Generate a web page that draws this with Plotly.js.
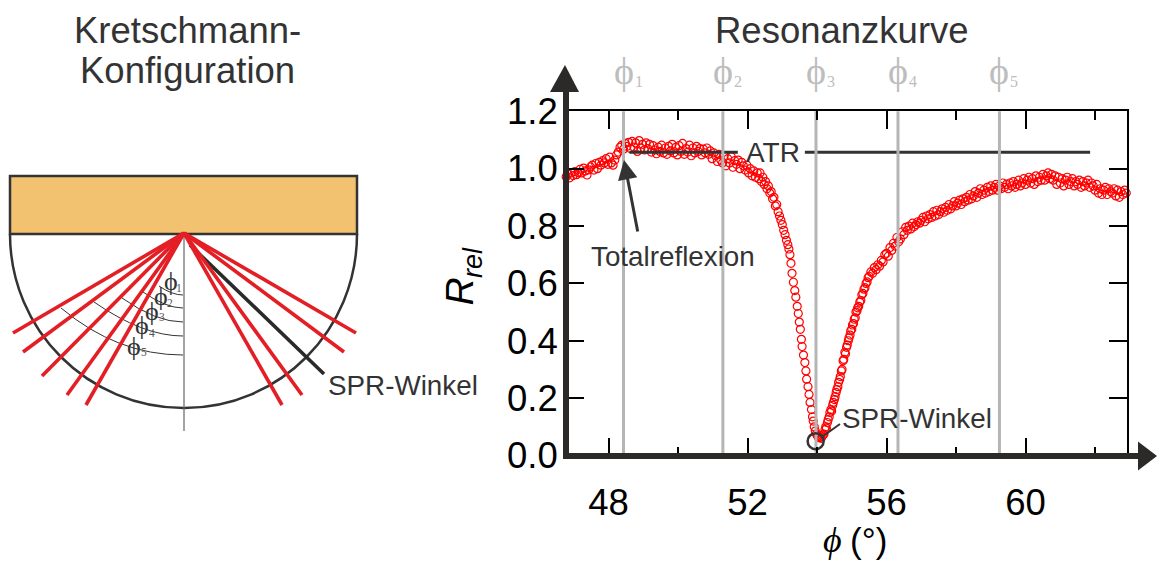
<!DOCTYPE html>
<html><head><meta charset="utf-8">
<script src="https://cdn.plot.ly/plotly-3.0.1.min.js"></script>
<style>html,body{margin:0;padding:0;background:#fff;overflow:hidden}</style>
</head><body><div id="chart" style="width:1157px;height:561px"></div>
<script>
const phiLeft=[46.78,46.83,46.88,46.93,46.98,47.03,47.08,47.13,47.18,47.23,47.28,47.33,47.38,47.43,47.48,47.53,47.58,47.63,47.68,47.73,47.78,47.83,47.88,47.93,47.98,48.03,48.08,48.13,48.18,48.23,48.28,48.33,48.38,48.43,48.48,48.53,48.58,48.63,48.68,48.73,48.78,48.83,48.88,48.93,48.98,49.03,49.08,49.13,49.18,49.23,49.28,49.33,49.38,49.43,49.48,49.53,49.58,49.63,49.68,49.73,49.78,49.83,49.88,49.93,49.98,50.03,50.08,50.13,50.18,50.23,50.28,50.33,50.38,50.43,50.48,50.53,50.58,50.63,50.68,50.73,50.78,50.83,50.88,50.93,50.98,51.03,51.08,51.13,51.18,51.23,51.28,51.33,51.38,51.43,51.48,51.53,51.58,51.63,51.68,51.73,51.78,51.83,51.88,51.93,51.98,52.03,52.08,52.13,52.18,52.23,52.28];
const rLeft=[.972,.981,.968,.985,.976,.99,.979,.986,.998,.985,1.002,.992,.978,.996,1.006,1.012,.995,1.018,1.0,1.022,1.012,1.028,1.02,1.035,1.015,1.04,1.02,1.012,1.03,1.048,1.058,1.075,1.082,1.068,1.088,1.078,1.092,1.07,1.095,1.075,1.09,1.06,1.098,1.072,1.085,1.065,1.09,1.07,1.085,1.058,1.08,1.065,1.052,1.075,1.06,1.082,1.055,1.072,1.05,1.078,1.062,1.085,1.055,1.074,1.048,1.08,1.06,1.088,1.05,1.07,1.058,1.082,1.045,1.072,1.055,1.078,1.06,1.07,1.048,1.068,1.055,1.072,1.05,1.062,1.035,1.055,1.045,1.025,1.05,1.03,1.02,1.045,1.01,1.035,1.02,1.042,1.005,1.028,1.015,1.03,1.0,1.022,1.01,.995,1.012,.985,1.0,.975,.992,.97,.985];
const phiDip=[52.32,52.36,52.40,52.44,52.48,52.52,52.56,52.60,52.64,52.68,52.72,52.76,52.80,52.84,52.88,52.92,52.96,53.00,53.04,53.08,53.12,53.16,53.19,53.22,53.25,53.28,53.32,53.36,53.39,53.43,53.46,53.49,53.52,53.55,53.57,53.61,53.65,53.68,53.70,53.74,53.77,53.80,53.84,53.87,53.89,53.92,53.95,53.98,54.01,54.03,54.06,54.09,54.12,54.15,54.18,54.20,54.23,54.25,54.27,54.30,54.32,54.35,54.37,54.40,54.42,54.45,54.47,54.50,54.52,54.55,54.57,54.60,54.62,54.65,54.67,54.70,54.72,54.75,54.77,54.80,54.82,54.85,54.87,54.90,54.92,54.95,54.97,55.00,55.02,55.05,55.07,55.10,55.12,55.15,55.17,55.20,55.23,55.26,55.29,55.32,55.35,55.38,55.41,55.44,55.47];
const rDip=[.965,.985,.955,.97,.945,.955,.93,.94,.915,.92,.895,.90,.87,.875,.85,.835,.82,.805,.785,.77,.75,.735,.72,.70,.67,.635,.604,.575,.552,.52,.495,.465,.44,.405,.38,.35,.324,.295,.266,.24,.213,.185,.16,.135,.12,.10,.085,.075,.07,.065,.062,.064,.06,.068,.072,.075,.09,.10,.095,.115,.125,.135,.15,.16,.155,.175,.185,.195,.205,.22,.23,.24,.255,.265,.275,.295,.30,.33,.335,.36,.355,.377,.385,.40,.41,.42,.435,.44,.455,.46,.475,.48,.50,.505,.515,.52,.535,.54,.56,.565,.58,.585,.60,.605,.62];
const phiRight=[55.50,55.55,55.60,55.65,55.70,55.75,55.80,55.85,55.90,55.95,56.00,56.05,56.10,56.15,56.20,56.25,56.30,56.35,56.40,56.45,56.50,56.55,56.60,56.65,56.70,56.75,56.80,56.85,56.90,56.95,57.00,57.05,57.10,57.15,57.20,57.25,57.30,57.35,57.40,57.45,57.50,57.55,57.60,57.65,57.70,57.75,57.80,57.85,57.90,57.95,58.00,58.05,58.10,58.15,58.20,58.25,58.30,58.35,58.40,58.45,58.50,58.55,58.60,58.65,58.70,58.75,58.80,58.85,58.90,58.95,59.00,59.05,59.10,59.15,59.20,59.25,59.30,59.35,59.40,59.45,59.50,59.55,59.60,59.65,59.70,59.75,59.80,59.85,59.90,59.95,60.00,60.05,60.10,60.15,60.20,60.25,60.30,60.35,60.40,60.45,60.50,60.55,60.60,60.65,60.70,60.75,60.80,60.85,60.90,60.95,61.00,61.05,61.10,61.15,61.20,61.25,61.30,61.35,61.40,61.45,61.50,61.55,61.60,61.65,61.70,61.75,61.80,61.85,61.90,61.95,62.00,62.05,62.10,62.15,62.20,62.25,62.30,62.35,62.40,62.45,62.50,62.55,62.60,62.65,62.70,62.75,62.80,62.85,62.90];
const rRight=[.625,.64,.635,.655,.648,.665,.66,.68,.675,.70,.705,.695,.725,.715,.74,.73,.76,.745,.755,.78,.77,.795,.785,.80,.79,.81,.798,.805,.815,.81,.82,.83,.815,.835,.825,.84,.83,.85,.835,.855,.84,.85,.86,.848,.865,.855,.875,.86,.87,.885,.87,.88,.89,.875,.895,.885,.90,.89,.91,.895,.905,.92,.90,.915,.93,.91,.925,.915,.935,.92,.94,.925,.935,.945,.925,.94,.93,.95,.935,.945,.93,.95,.94,.955,.935,.945,.96,.94,.95,.965,.945,.96,.97,.95,.965,.945,.975,.955,.97,.96,.98,.96,.975,.985,.965,.98,.96,.975,.945,.97,.95,.965,.94,.96,.97,.945,.955,.965,.94,.955,.945,.96,.935,.955,.94,.95,.96,.935,.95,.94,.925,.945,.915,.93,.91,.925,.935,.91,.93,.92,.915,.93,.905,.925,.90,.92,.91,.925,.915];
const phiMarks=[48.43,51.29,53.97,56.33,59.25];
const phiDigits=["1","2","3","4","5"];
const atrLevel=1.057, atrSegments=[[48.6,51.72],[53.65,61.86]];
const sprPhi=53.96, sprR=0.05;
const xTicks=[48,52,56,60], xMinor=[48,50,52,54,56,58,60,62], yTicks=[0,0.2,0.4,0.6,0.8,1.0,1.2];
const xRange=[46.775,62.93], yRange=[0,1.2];
// Sketch geometry (page-like coordinates of the left diagram)
const apex=[184,233];
const redRayEnds=[[13,333],[23,352],[42,376],[67,395],[86,405],[356,333],[344,352],[302,395],[282,405]];
const blackRayEnd=[324,374];
const arcs=[[183,295,172,295,159,286],[183,308,166,308,143,292],[183,322,156,322,122,298],[183,336,143,336,94,302],[183,355,117,355,61,308]];
const sketchPhi=[[170.7,281],[160.7,296],[152,311],[142.3,325.5],[134.3,346]];
const sketchDigit=[[179.3,288],[170,303],[161.7,317],[152,333],[144,352]];

const ink='#333333', bar='#2b2a29', grayLine='#b5b5b5', grayText='#bdbdbd', red='#ff0000', rayRed='#e31e24';
const F='"Liberation Sans",Arial,sans-serif', S='"Liberation Serif",serif';

const rayX=[],rayY=[];
redRayEnds.forEach(e=>{rayX.push(apex[0],e[0],null);rayY.push(apex[1],e[1],null);});
const markX=[],markY=[];
phiMarks.forEach(p=>{markX.push(p,p,null);markY.push(-0.01,1.262,null);});
const atrX=[],atrY=[];
atrSegments.forEach(s=>{atrX.push(s[0],s[1],null);atrY.push(atrLevel,atrLevel,null);});

const traces=[
 {x:phiLeft.concat(phiDip,phiRight),y:rLeft.concat(rDip,rRight),mode:'markers',cliponaxis:false,
  marker:{symbol:'circle-open',size:8,color:red,line:{width:1.2,color:red}}},
 {x:atrX,y:atrY,mode:'lines',line:{color:ink,width:3},cliponaxis:false},
 {x:markX,y:markY,mode:'lines',line:{color:grayLine,width:3},cliponaxis:false},
 {x:[sprPhi],y:[sprR],mode:'markers',cliponaxis:false,marker:{symbol:'circle-open',size:16,color:ink,line:{width:2.5,color:ink}}},
 {x:[54.17,54.66],y:[0.067,0.11],mode:'lines',line:{color:ink,width:2},cliponaxis:false},
 {x:[566,566],y:[459,90],xaxis:'x2',yaxis:'y2',mode:'lines',line:{color:bar,width:6}},
 {x:[563,1140],y:[456,456],xaxis:'x2',yaxis:'y2',mode:'lines',line:{color:bar,width:6}},
 {x:[blackRayEnd[0],apex[0]+6],y:[blackRayEnd[1],apex[1]+12],xaxis:'x2',yaxis:'y2',mode:'lines',line:{color:bar,width:3.6}},
 {x:rayX,y:rayY,xaxis:'x2',yaxis:'y2',mode:'lines',line:{color:rayRed,width:3.6}}
];

const shapes=[
 {type:'rect',xref:'x2',yref:'y2',x0:10,x1:357,y0:176,y1:234,fillcolor:'#f3c271',line:{color:ink,width:2.5},layer:'below'},
 {type:'path',xref:'x2',yref:'y2',path:'M10,234 C10,330 88,408 184,408 C280,408 357,330 357,234',line:{color:ink,width:2.5},layer:'below'},
 {type:'line',xref:'x2',yref:'y2',x0:184,x1:184,y0:234,y1:431,line:{color:'#666',width:1.2},layer:'below'},
 {type:'path',xref:'x2',yref:'y2',path:'M550,92 L579,92 L565,65 Z',fillcolor:bar,line:{width:0}},
 {type:'path',xref:'x2',yref:'y2',path:'M1138,441.5 L1157,456 L1138,470.5 Z',fillcolor:bar,line:{width:0}}
];
arcs.forEach(a=>shapes.push({type:'path',xref:'x2',yref:'y2',path:`M${a[0]},${a[1]} Q${a[2]},${a[3]} ${a[4]},${a[5]}`,line:{color:ink,width:1},layer:'below'}));

function note(x,y,text,size,color,font,extra,style){
 return Object.assign({xref:'x2',yref:'y2',x,y,text,showarrow:false,font:{family:font||F,size,color:color||ink,style:style||'normal'},xanchor:'center',yanchor:'middle'},extra||{});
}
const annotations=[
 note(187,30,'Kretschmann-',36.5),
 note(187,70,'Konfiguration',36.5),
 note(842,30,'Resonanzkurve',36.5),
 note(403,385,'SPR-Winkel',27.8),
 note(917,418,'SPR-Winkel',27.8),
 note(773,152,'ATR',28),
 note(673,256,'Totalreflexion',27.8),
 note(459,291.5,'R',39,'#000',F,{textangle:-90},'italic'),
 note(473,263,'rel',27,'#000',F,{textangle:-90},'italic'),
 note(832,540,'ϕ',36,'#000',S,{},'italic'),
 note(868,540.5,'(°)',35,'#000',F),
 {xref:'x2',yref:'y2',axref:'x2',ayref:'y2',x:624,y:160,ax:638,ay:233,text:'',showarrow:true,arrowhead:2,arrowsize:1.3,arrowwidth:3,arrowcolor:ink}
];
phiMarks.forEach((p,i)=>{
 annotations.push({xref:'x',yref:'y2',x:p,y:71,text:'ϕ',showarrow:false,font:{family:S,size:38,color:grayText}});
 annotations.push({xref:'x',yref:'y2',x:p,y:81,xshift:15,text:phiDigits[i],showarrow:false,font:{family:S,size:16,color:grayText}});
});
sketchPhi.forEach((p,i)=>annotations.push(note(p[0],p[1],'ϕ',26,ink,S)));
sketchDigit.forEach((p,i)=>annotations.push(note(p[0],p[1],phiDigits[i],11.5,'#555',S)));

const axisFont={family:F,size:36.5,color:'#000'};
const layout={
 width:1157,height:561,margin:{l:0,r:0,t:0,b:0,pad:0},paper_bgcolor:'#fff',plot_bgcolor:'rgba(0,0,0,0)',showlegend:false,hovermode:false,
 xaxis:{domain:[566/1157,1127.3/1157],range:xRange,anchor:'y',tickmode:'array',tickvals:xTicks,ticktext:xTicks.map(String),
  ticks:'inside',ticklen:18,tickwidth:2,tickcolor:'#000',showline:true,linewidth:2,linecolor:'#000',mirror:'allticks',showgrid:false,zeroline:false,
  tickfont:axisFont,ticklabelstandoff:14,
  minor:{tickmode:'array',tickvals:xMinor,ticks:'inside',ticklen:9,tickwidth:2,tickcolor:'#000',showgrid:false}},
 yaxis:{domain:[1-455.5/561,1-111.3/561],range:yRange,anchor:'x',tickmode:'array',tickvals:yTicks,ticktext:yTicks.map(v=>v.toFixed(1)),
  ticks:'inside',ticklen:18,tickwidth:2,tickcolor:'#000',showline:true,linewidth:2,linecolor:'#000',mirror:'allticks',showgrid:false,zeroline:false,
  tickfont:axisFont,ticklabelstandoff:-1},
 xaxis2:{domain:[0,1],range:[0,1157],anchor:'y2',visible:false,fixedrange:true},
 yaxis2:{domain:[0,1],range:[561,0],anchor:'x2',visible:false,fixedrange:true},
 shapes,annotations
};
Plotly.newPlot('chart',traces,layout,{displayModeBar:false,staticPlot:true});
</script></body></html>
